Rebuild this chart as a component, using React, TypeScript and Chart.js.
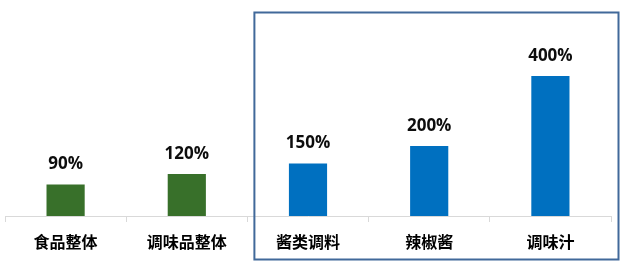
import React, { useEffect, useRef } from "react";
import { Chart, registerables } from "chart.js";

Chart.register(...registerables);

const categories = ["食品整体", "调味品整体", "酱类调料", "辣椒酱", "调味汁"];
const values = [90, 120, 150, 200, 400];
const valueLabels = ["90%", "120%", "150%", "200%", "400%"];
const barColors = ["#38702A", "#38702A", "#0070C0", "#0070C0", "#0070C0"];
const highlightStart = 2; // index of first boxed category

const valueLabelPlugin = {
  id: "valueLabels",
  afterDatasetsDraw(chart: any) {
    const ctx = chart.ctx;
    const meta = chart.getDatasetMeta(0);
    ctx.save();
    ctx.font = "bold 17px 'Open Sans', 'Noto Sans', sans-serif";
    ctx.fillStyle = "#0D0D0D";
    ctx.textAlign = "center";
    ctx.textBaseline = "middle";
    meta.data.forEach((bar: any, i: number) => {
      ctx.fillText(valueLabels[i], bar.x, bar.y - 20);
    });
    ctx.restore();
  },
};

const boxPlugin = {
  id: "highlightBox",
  afterDraw(chart: any) {
    const ctx = chart.ctx;
    const x = chart.scales.x;
    const step = x.getPixelForValue(1) - x.getPixelForValue(0);
    const left = x.getPixelForValue(highlightStart) - step / 2 + 7;
    const right = chart.chartArea.right + 7.5;
    const top = 12.5;
    const bottom = 259.5;
    ctx.save();
    ctx.strokeStyle = "#41699A";
    ctx.lineWidth = 2;
    ctx.strokeRect(left, top, right - left, bottom - top);
    ctx.restore();
  },
};

export default function App() {
  const ref = useRef<HTMLCanvasElement>(null);
  useEffect(() => {
    if (!ref.current) return;
    const chart = new Chart(ref.current, {
      type: "bar",
      data: {
        labels: categories,
        datasets: [
          {
            data: values,
            backgroundColor: barColors,
            categoryPercentage: 1,
            barPercentage: 0.315,
          },
        ],
      },
      options: {
        responsive: false,
        animation: false,
        layout: { padding: { left: 5, right: 17, top: 6, bottom: 0 } },
        plugins: { legend: { display: false }, tooltip: { enabled: false } },
        scales: {
          x: {
            offset: true,
            grid: {
              display: true,
              offset: true,
              drawOnChartArea: false,
              drawTicks: true,
              tickLength: 6,
              color: "#D9D9D9",
            },
            border: { display: true, color: "#D9D9D9", width: 1 },
            ticks: {
              color: "#000000",
              padding: 10,
              font: { family: "'Noto Sans CJK SC', sans-serif", size: 16, weight: "bold" },
              maxRotation: 0,
            },
            afterFit: (scale: any) => {
              scale.height = 52;
            },
          },
          y: {
            display: false,
            min: 0,
            max: 600,
          },
        },
      },
      plugins: [valueLabelPlugin, boxPlugin],
    });
    return () => chart.destroy();
  }, []);
  return (
    <div style={{ position: "absolute", left: 0, top: 0, width: 628, height: 268, background: "#fff" }}>
      <canvas ref={ref} width={628} height={268} />
    </div>
  );
}
